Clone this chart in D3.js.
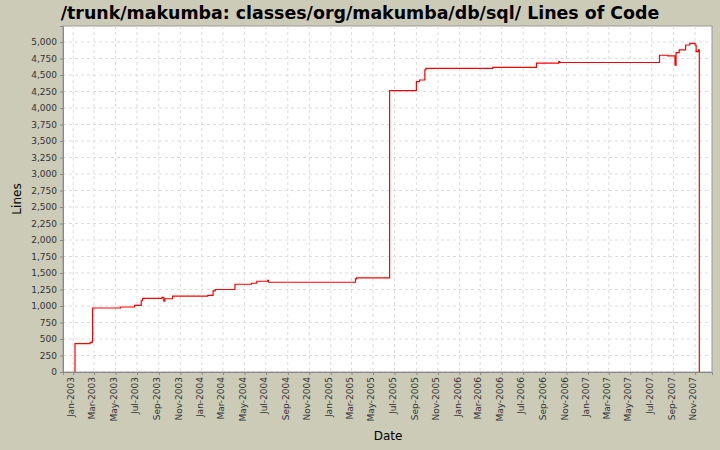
<!DOCTYPE html><html><head><meta charset="utf-8">
<script src="https://cdn.jsdelivr.net/npm/d3@7"></script>
<style>body{margin:0;background:#cccbb8}</style></head><body>
<svg id="c" width="720" height="450"></svg>
<script>
const dates=["2003-01-06","2003-01-06","2003-02-18","2003-02-24","2003-02-25","2003-05-15","2003-06-24","2003-07-13","2003-07-17","2003-09-10","2003-09-15","2003-09-18","2003-10-10","2004-01-18","2004-02-02","2004-02-08","2004-04-04","2004-05-21","2004-06-05","2004-07-06","2004-07-08","2005-03-12","2005-03-15","2005-06-17","2005-09-01","2005-09-10","2005-09-25","2005-09-28","2006-04-06","2006-08-08","2006-10-10","2006-10-13","2007-07-23","2007-08-16","2007-09-05","2007-09-08","2007-09-17","2007-10-05","2007-10-17","2007-11-01","2007-11-04","2007-11-10","2007-11-13"];
const lines=[0,430,450,470,970,985,1010,1080,1115,1130,1075,1110,1150,1160,1230,1250,1330,1345,1375,1390,1360,1410,1425,4265,4400,4425,4580,4600,4615,4680,4705,4690,4800,4790,4650,4840,4880,4955,4980,4955,4855,4880,0];
const yTicks=d3.range(0,5001,250);
const svg=d3.select("#c");
const L=63,R=712,T=26,B=372;
const x=d3.scaleTime().domain([new Date(2002,11,3),new Date(2007,11,19)]).range([L,R]);
const y=d3.scaleLinear().domain([0,5243]).range([B,T]);
svg.append("rect").attr("x",L).attr("y",T).attr("width",R-L).attr("height",B-T).attr("fill","#fff").attr("stroke","#999");
const xt=d3.timeMonth.every(2).range(new Date(2003,0,1),new Date(2007,11,2));
svg.append("g").selectAll("line").data(xt).join("line").attr("x1",d=>x(d)).attr("x2",d=>x(d)).attr("y1",T).attr("y2",B).attr("stroke","#ddd").attr("stroke-dasharray","3,3");
svg.append("g").selectAll("line").data(yTicks).join("line").attr("y1",d=>y(d)).attr("y2",d=>y(d)).attr("x1",L).attr("x2",R).attr("stroke","#ddd").attr("stroke-dasharray","3,3");
const f=d3.format(",");
svg.append("g").attr("transform",`translate(${L},0)`).call(d3.axisLeft(y).tickValues(yTicks).tickFormat(f).tickSize(3)).call(g=>{g.select(".domain").attr("stroke","#888");g.selectAll("text").attr("font-family","DejaVu Sans").attr("font-size",9).attr("fill","#333");g.selectAll(".tick line").attr("stroke","#888")});
const tf=d3.timeFormat("%b-%Y");
svg.append("g").attr("transform",`translate(0,${B})`).call(d3.axisBottom(x).tickValues(xt).tickFormat(tf).tickSize(3)).call(g=>{g.select(".domain").attr("stroke","#888");g.selectAll(".tick line").attr("stroke","#888");g.selectAll("text").attr("font-family","DejaVu Sans").attr("font-size",9).attr("fill","#333").attr("transform","rotate(-90)").attr("text-anchor","end").attr("dx","-5").attr("dy","-0.2em").attr("y",0).attr("x",0).style("dominant-baseline","middle")});
const data=dates.map((d,i)=>({d:new Date(d+"T00:00:00"),v:lines[i]}));
svg.append("path").datum(data).attr("fill","none").attr("stroke","#f00").attr("stroke-width",1.2).attr("d",d3.line().x(d=>x(d.d)).y(d=>y(d.v)).curve(d3.curveStepAfter));
svg.append("text").attr("x",360).attr("y",19).attr("text-anchor","middle").attr("font-family","DejaVu Sans").attr("font-weight","bold").attr("font-size",17.4).text("/trunk/makumba: classes/org/makumba/db/sql/ Lines of Code");
svg.append("text").attr("x",388).attr("y",440).attr("text-anchor","middle").attr("font-family","DejaVu Sans").attr("font-size",12).text("Date");
svg.append("text").attr("transform","translate(21,199) rotate(-90)").attr("text-anchor","middle").attr("font-family","DejaVu Sans").attr("font-size",12).text("Lines");
</script></body></html>
